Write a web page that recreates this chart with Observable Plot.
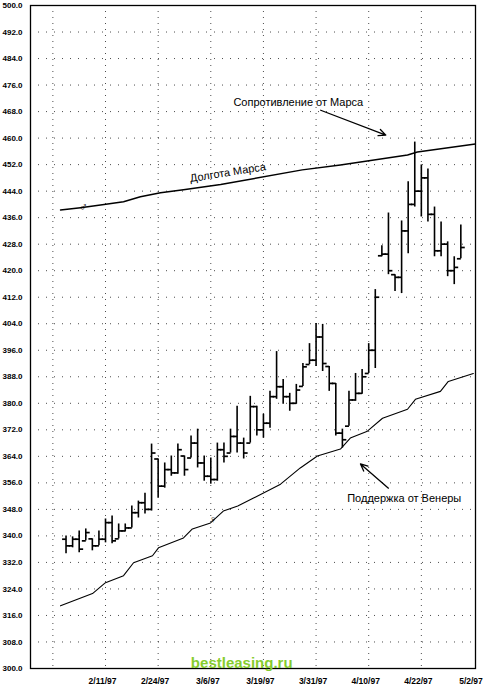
<!DOCTYPE html>
<html><head><meta charset="utf-8">
<script src="https://cdn.jsdelivr.net/npm/d3@7"></script>
<script src="https://cdn.jsdelivr.net/npm/@observablehq/plot@0.6"></script>
<style>body{margin:0;background:#fff}svg{display:block}</style>
</head><body><div id="chart"></div>
<script>
// trading-day index (0 = 2/11/97)
const barDay = [-6,-5,-4,-3,-2,-1,0,1,2,3,4,5,6,7,8,9,10,11,12,13,14,15,16,17,18,19,20,21,22,23,24,25,26,27,28,29,30,31,32,33,34,35,36,37,38,39,40,41,42,43,44,45,46,47,48,49,50,51,52,53,54];
const high  = [340.0,339.7,341.5,342.1,339.1,341.5,345.1,346.0,343.6,343.6,349.0,350.5,352.9,367.7,363.2,362.0,364.1,367.7,364.1,370.1,372.2,364.1,363.5,368.0,368.0,372.2,379.1,369.5,382.1,379.1,376.7,383.6,395.6,387.2,383.0,385.7,392.0,398.0,404.1,403.8,391.1,386.0,372.2,383.6,389.0,390.2,398.0,414.3,427.5,437.4,418.8,435.0,446.8,458.8,451.9,450.7,439.2,434.7,428.7,424.2,433.8];
const low   = [334.6,336.4,334.9,338.5,335.5,337.0,337.9,337.6,339.1,341.2,342.4,345.4,346.6,347.5,351.4,354.4,358.0,358.6,358.0,363.5,360.5,356.5,355.6,356.5,362.0,365.0,365.0,363.2,368.0,370.1,369.5,372.5,381.2,379.7,377.6,379.7,385.1,391.7,391.1,389.6,383.6,370.1,366.5,373.1,380.6,382.7,389.0,390.5,424.2,418.8,413.7,413.1,425.1,439.2,436.2,434.7,424.2,424.2,418.2,415.8,423.6];
const open  = [339,337,339,338.5,339.1,337,339,344,339.1,341.5,342.4,347,350,348,363.2,355,360,359,364.1,363.5,368,362,358,357,366,365,370,368,368,379,372,374,382,385,382,380,385.1,391.7,393,400,391.1,386,371,373.1,381,383,389,396,424.5,425,418.8,418,432,440,444,448,437,426,428,420,423.6];
const close = [337,339,336,341,337,339,344,338.5,341.5,342.4,347,350,348,365,355,360,359,366,360,368,362,358,357,366,364,370,368,365,379,372,374,382,385,382,380,384,391,393,400,392,386,371,369,381,383,388,396,412,425,420,418,432,440,444,448,437,426,428,420,421,427];

// Mars longitude line
const marsDay   = [-6.84,-3.8,-0.76,2.74,5.3,8.36,11.85,17.5,29.9,35.7,45.9,47.4,56.2];
const marsPrice = [438.3,439.0,439.8,440.8,442.3,443.5,444.4,446.0,450.4,451.9,454.9,455.8,458.2];
// Venus support line
const venusDay   = [-6.84,-1.98,0,2.74,4.26,7.14,8.05,11.85,13.2,15.96,17.9,20.1,22.5,26.6,29.6,32.2,35.7,37.2,39.8,42.1,45.9,47.1,50.9,52.1,55.9];
const venusPrice = [318.9,322.6,325.9,328.0,331.9,334.0,336.4,339.4,342.1,343.9,347.5,349.0,351.4,355.6,360.5,364.1,366.2,369.5,371.6,375.5,378.2,381.2,383.6,386.6,389.0];

// axes
const yTicks = [300,308,316,324,332,340,348,356,364,372,380,388,396,404,412,420,428,436,444,452,460,468,476,484,492,500];
const xTickDays = [0,8,16,24,32,40,48,56];
const xTickLabels = ["2/11/97","2/24/97","3/6/97","3/19/97","3/31/97","4/10/97","4/22/97","5/2/97"];
const gridDays = [-8,0,8,16,24,32,40,48];

// annotations
const noteText  = ["Сопротивление от Марса","Поддержка от Венеры","Долгота Марса","♂","♀"];
const noteDay   = [29.3,45.4,18.6,-3.4,16.3];
const notePrice = [470.8,351.4,449.6,439.3,345.0];
const noteAngle = [0,0,-9,0,0];
const noteSize  = [11,11,11,12,11];
const arrowFrom = [[32.7,468.4],[43.0,354.4]];
const arrowTo   = [[42.6,460.9],[38.75,361.7]];
const watermark = "bestleasing.ru";

const bars = barDay.map((d,i)=>({day:d, high:high[i], low:low[i], open:open[i], close:close[i]}));
const mars = marsDay.map((d,i)=>({day:d, price:marsPrice[i]}));
const venus = venusDay.map((d,i)=>({day:d, price:venusPrice[i]}));
const notes = noteText.map((t,i)=>({text:t, day:noteDay[i], price:notePrice[i], angle:noteAngle[i], size:noteSize[i]}));
const arrows = arrowFrom.map((f,i)=>({x1:f[0], y1:f[1], x2:arrowTo[i][0], y2:arrowTo[i][1]}));
const xTicks = xTickDays.map((d,i)=>({day:d, label:xTickLabels[i]}));
const fmt = d3.format(".1f");

const chart = Plot.plot({
  width:484, height:692,
  marginLeft:30, marginRight:9, marginTop:5, marginBottom:24,
  x:{domain:[-11.4,56.23], axis:null},
  y:{domain:[300,500], axis:null},
  style:{fontFamily:"'Liberation Sans', Arial, sans-serif", background:"#fff", color:"#000"},
  marks:[
    Plot.ruleY(yTicks.slice(1,-1), {stroke:"#000", strokeOpacity:0.7, strokeDasharray:"1,7"}),
    Plot.ruleX(gridDays, {stroke:"#000", strokeOpacity:0.7, strokeDasharray:"1,5"}),
    Plot.frame({stroke:"#000", strokeWidth:1.3}),
    Plot.text(yTicks, {y:d=>d, text:d=>fmt(d), frameAnchor:"left", textAnchor:"start", dx:-28, fontSize:8, fontWeight:"bold", fill:"#000"}),
    Plot.text(xTicks, {x:"day", text:"label", frameAnchor:"bottom", dy:15, dx:-3, fontSize:8.5, fontWeight:"bold", fill:"#000"}),
    Plot.line(mars, {x:"day", y:"price", stroke:"#000", strokeWidth:1.4}),
    Plot.line(venus, {x:"day", y:"price", stroke:"#000", strokeWidth:1.1}),
    Plot.ruleX(bars, {x:"day", y1:"low", y2:"high", stroke:"#000", strokeWidth:1.6}),
    Plot.link(bars, {x1:d=>d.day-0.6, x2:"day", y1:"open", y2:"open", stroke:"#000", strokeWidth:1.7}),
    Plot.link(bars, {x1:"day", x2:d=>d.day+0.6, y1:"close", y2:"close", stroke:"#000", strokeWidth:1.7}),
    Plot.arrow(arrows, {x1:"x1", y1:"y1", x2:"x2", y2:"y2", stroke:"#000", strokeWidth:1.3, headLength:9, headAngle:50}),
    Plot.text(notes, {x:"day", y:"price", text:"text", rotate:"angle", fontSize:"size", fill:"#000"}),
    Plot.text([watermark], {x:20.7, y:301.6, text:d=>d, fontSize:15, fontWeight:"bold", fill:"#86cc2e"})
  ]
});
document.getElementById("chart").appendChild(chart);
</script>
</body></html>
